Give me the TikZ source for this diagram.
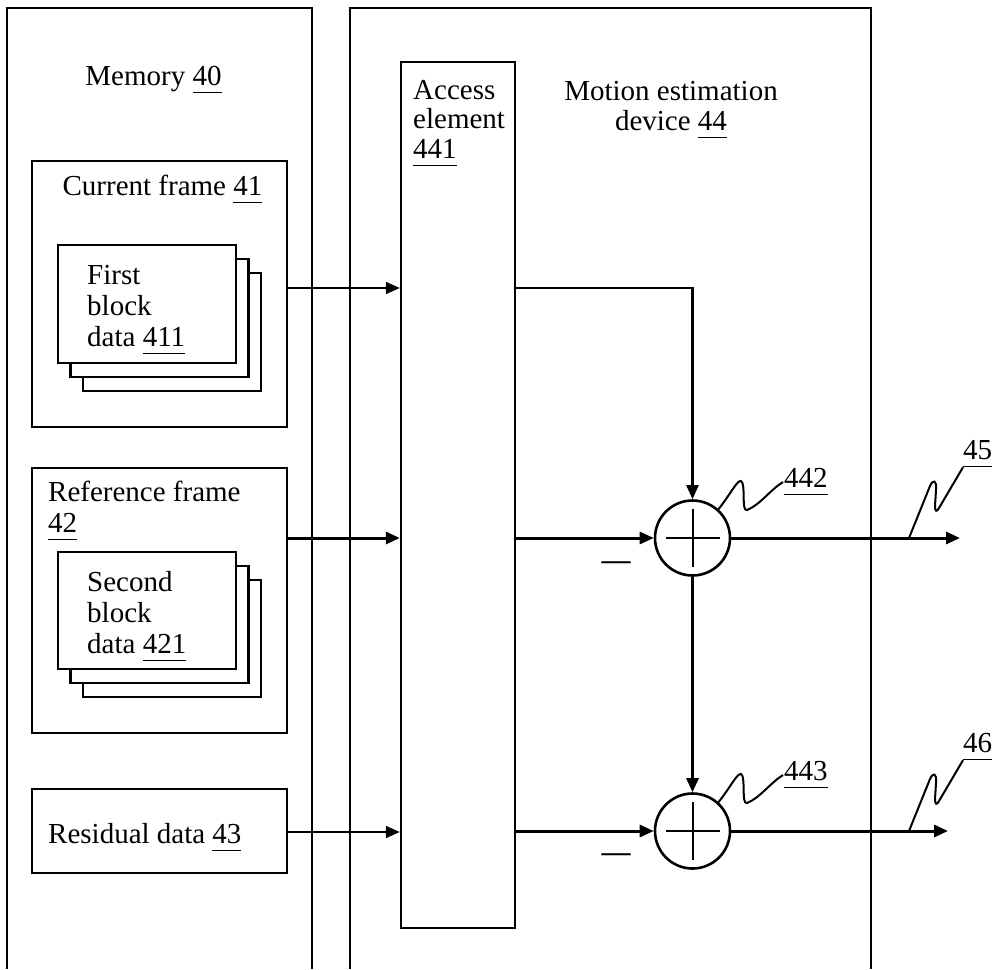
\documentclass[tikz,border=0pt]{standalone}
\usepackage{fontspec}
\setmainfont{Liberation Serif}
\usetikzlibrary{arrows.meta,calc}
\newcommand\refn[1]{\setbox0\hbox{#1}\rlap{\vrule width\wd0 height -6.5pt depth 8pt}\box0}
\tikzset{
  box/.style={draw, line width=2.4pt, inner sep=0pt, fill=white},
  lbl/.style={inner sep=0pt, align=left, font=\fontsize{29}{31}\selectfont},
  clbl/.style={inner sep=0pt, align=center, font=\fontsize{29}{30}\selectfont},
  thinarrow/.style={line width=1.8pt, -{Triangle[length=14pt,width=12pt]}},
  thickarrow/.style={line width=3pt, -{Triangle[length=14pt,width=12pt]}},
  sumnode/.style={circle, draw, line width=2.6pt, minimum size=75pt, inner sep=0pt},
  leader/.style={line width=2pt},
}
\begin{document}
\begin{tikzpicture}[x=1pt,y=-1pt]
\useasboundingbox (0,0) rectangle (995,969);
% open outer boxes
\draw[line width=2.4pt] (7,969) -- (7,8) -- (312,8) -- (312,969);
\draw[line width=2.4pt] (350,969) -- (350,8) -- (871,8) -- (871,969);
\node[clbl, anchor=base] (mem) at (153.5,85) {Memory \refn{40}};
\node[clbl, anchor=base] (med) at (671,130) {Motion estimation\\device \refn{44}};

% current frame
\node[box, minimum width=255pt, minimum height=266pt] (cf) at (159.5,294) {};
\node[lbl, anchor=base] (cft) at (162.5,195) {Current frame \refn{41}};
\node[box, minimum width=178pt, minimum height=118pt] (c1c) at (172,332) {};
\node[box, minimum width=178pt, minimum height=118pt] (c1b) at (159.5,318) {};
\node[box, minimum width=178pt, minimum height=118pt] (c1a) at (147,304) {};
\node[lbl, anchor=base west] (c1t) at (87,346) {First\\block\\data \refn{411}};

% reference frame
\node[box, minimum width=255pt, minimum height=265pt] (rf) at (159.5,600.5) {};
\node[lbl, anchor=base west] (rft) at (48,532) {Reference frame\\\refn{42}};
\node[box, minimum width=178pt, minimum height=117pt] (c2c) at (172,638.5) {};
\node[box, minimum width=178pt, minimum height=117pt] (c2b) at (159.5,624.5) {};
\node[box, minimum width=178pt, minimum height=117pt] (c2a) at (147,610.5) {};
\node[lbl, anchor=base west] (c2t) at (87,653) {Second\\block\\data \refn{421}};

% residual data
\node[box, minimum width=255pt, minimum height=84pt] (res) at (159.5,831) {};
\node[lbl, anchor=base west] (rest) at (48,843) {Residual data \refn{43}};

% access element
\node[box, minimum width=114pt, minimum height=866pt] (acc) at (458,495) {};
\node[lbl, anchor=base west, font=\fontsize{29}{29.5}\selectfont] (acct) at (413,158) {Access\\element\\\refn{441}};

% sum nodes
\node[sumnode] (s1) at (692.5,538) {};
\node[sumnode] (s2) at (692.5,831) {};
\foreach \s in {s1,s2}{
  \draw[line width=2pt] ($(\s.center)+(-27,0)$) -- ($(\s.center)+(27,0)$);
  \draw[line width=2pt] ($(\s.center)+(0,-29)$) -- ($(\s.center)+(0,29)$);
}
\node[lbl, anchor=center, font=\fontsize{29}{30}\bfseries] (m1) at (616,566) {—};
\node[lbl, anchor=center, font=\fontsize{29}{30}\bfseries] (m2) at (616,858) {—};

% labels
\node[lbl, anchor=base west] (l442) at (784,487) {\refn{442}};
\node[lbl, anchor=base west] (l443) at (784,780) {\refn{443}};
\node[lbl, anchor=base west] (l45) at (963,459) {\refn{45}};
\node[lbl, anchor=base west] (l46) at (963,752) {\refn{46}};

% connectors from memory
\draw[thinarrow] (cf.east |- 0,288) -- (acc.west |- 0,288);
\draw[thickarrow] (rf.east |- 0,538) -- (acc.west |- 0,538);
\draw[thinarrow] (res.east |- 0,832) -- (acc.west |- 0,832);

% access to sums
\draw[line width=2.2pt, -{Triangle[length=14pt,width=12pt]}] (acc.east |- 0,288) -| (s1.north);
\draw[thickarrow] (acc.east |- s1.west) -- (s1.west);
\draw[thickarrow] (s1.south) -- (s2.north);
\draw[thickarrow] (acc.east |- s2.west) -- (s2.west);

% outputs
\coordinate (o1) at (960,538);
\coordinate (o2) at (948,831);
\draw[thickarrow] (s1.east) -- (o1);
\draw[thickarrow] (s2.east) -- (o2);

% leaders
\draw[leader] (s1.48) .. controls (730,495) and (737,480) .. (741,481) .. controls (746,483) and (741,512) .. (747,510) .. controls (760,505) and (770,490) .. (783,482);
\draw[leader] (s2.48) .. controls (730,788) and (737,773) .. (741,774) .. controls (746,776) and (741,805) .. (747,803) .. controls (760,798) and (770,783) .. (783,775);
\coordinate (q1) at (909,538);
\coordinate (q2) at (909,831);
\draw[leader] (q1) -- (930,486) .. controls (933,479) and (937,480) .. (936,490) -- (935,506) .. controls (935,512) and (937,512) .. (939,508) -- (l45.south west);
\draw[leader] (q2) -- (930,779) .. controls (933,772) and (937,773) .. (936,783) -- (935,799) .. controls (935,805) and (937,805) .. (939,801) -- (l46.south west);
\end{tikzpicture}
\end{document}
